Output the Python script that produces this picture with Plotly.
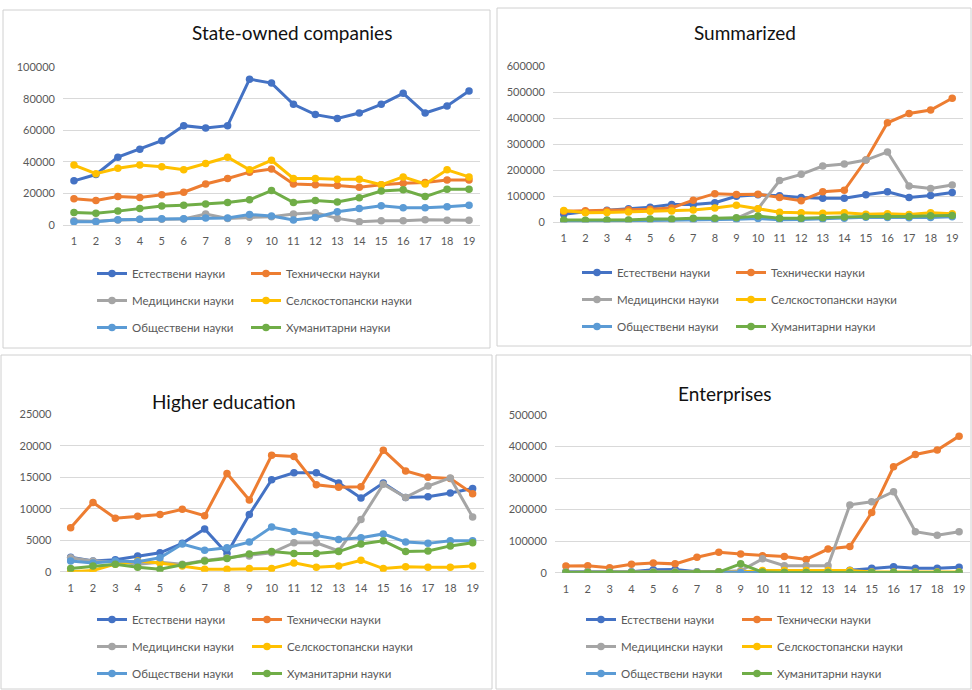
import plotly.graph_objects as go

W, H = 972, 690

x_vals = list(range(1, 20))

series_names = ['Естествени науки', 'Технически науки', 'Медицински науки',
                'Селскостопански науки', 'Обществени науки', 'Хуманитарни науки']
series_colors = ['#4472C4', '#ED7D31', '#A5A5A5', '#FFC000', '#5B9BD5', '#70AD47']

# State-owned companies
state_est = [28000, 32000, 43000, 48000, 53500, 63000, 61500, 63000, 92500, 90000, 76500, 70000, 67500, 71000, 76500, 83500, 71000, 75500, 85000]
state_tech = [16700, 15500, 18000, 17500, 19200, 20800, 26000, 29500, 33500, 35500, 26000, 25500, 25000, 24000, 25500, 26500, 27000, 28500, 28500]
state_med = [2700, 2300, 3200, 3600, 3600, 3800, 7000, 4200, 4900, 5300, 7000, 7800, 4200, 2000, 2700, 2700, 3400, 3000, 3000]
state_sel = [38000, 32500, 36000, 38000, 37000, 35000, 39000, 43000, 35000, 41000, 29500, 29500, 29000, 29000, 25500, 30500, 26000, 35000, 30500]
state_soc = [2100, 2100, 3400, 3600, 4000, 4000, 4400, 4400, 6700, 5700, 3200, 4800, 8400, 10500, 12200, 10900, 10900, 11600, 12600]
state_hum = [8000, 7400, 8800, 10500, 12000, 12600, 13300, 14300, 16000, 21800, 14300, 15600, 14600, 17300, 21500, 22300, 18000, 22700, 22700]

# Summarized
sum_est = [31000, 40000, 46000, 52000, 58000, 68000, 68000, 75000, 100000, 106000, 102000, 95000, 92000, 92000, 106000, 117000, 95000, 103000, 114000]
sum_tech = [42000, 44000, 44000, 48000, 50000, 55000, 85000, 110000, 107000, 108000, 95000, 83000, 117000, 123000, 239000, 382000, 418000, 431000, 476000]
sum_med = [6000, 6000, 7000, 8000, 9000, 10000, 12000, 12000, 15000, 52000, 160000, 184000, 216000, 224000, 239000, 270000, 139000, 130000, 143000]
sum_sel = [45000, 37000, 38000, 40000, 42000, 43000, 47000, 55000, 65000, 52000, 39000, 37000, 35000, 37000, 31000, 33000, 30000, 37000, 33000]
sum_soc = [4000, 4000, 6000, 6000, 7000, 8000, 8000, 9000, 12000, 15000, 10000, 11000, 13000, 16000, 19000, 18000, 17000, 18000, 21000]
sum_hum = [9000, 8000, 9000, 9000, 13000, 13000, 16000, 16000, 17000, 24000, 16000, 16000, 17000, 20000, 22000, 22000, 22000, 25000, 26000]

# Higher education
hed_est = [2300, 1700, 1900, 2500, 3000, 4500, 6800, 2900, 9100, 14600, 15700, 15700, 14100, 11700, 14100, 11800, 11900, 12500, 13200]
hed_tech = [7000, 11000, 8500, 8800, 9100, 9900, 8900, 15600, 11400, 18500, 18300, 13800, 13400, 13500, 19300, 16000, 15000, 14800, 12400]
hed_med = [2200, 1700, 1600, 1200, 1500, 1200, 1800, 2200, 2500, 3000, 4600, 4600, 3300, 8300, 13900, 11800, 13600, 14900, 8700]
hed_sel = [0, 200, 1200, 1700, 1400, 900, 400, 400, 500, 500, 1400, 700, 900, 1800, 500, 800, 700, 700, 900]
hed_soc = [1700, 1400, 1700, 1600, 2200, 4400, 3400, 3800, 4700, 7100, 6400, 5800, 5100, 5400, 6000, 4700, 4500, 4900, 4900]
hed_hum = [500, 900, 1200, 700, 400, 1100, 1700, 2100, 2800, 3200, 2900, 2900, 3200, 4400, 4900, 3200, 3300, 4100, 4600]

# Enterprises
ent_est = [3000, 3000, 3000, 3000, 9000, 10000, 3000, 3000, 3000, 3000, 4000, 4000, 5000, 8000, 14000, 19000, 14000, 14000, 17000]
ent_tech = [21000, 22000, 16000, 27000, 31000, 28000, 49000, 65000, 59000, 54000, 51000, 42000, 75000, 83000, 191000, 336000, 375000, 389000, 433000]
ent_med = [2000, 2000, 2000, 2000, 3000, 3000, 2000, 3000, 6000, 44000, 22000, 22000, 22000, 215000, 225000, 257000, 130000, 119000, 130000]
ent_sel = [1000, 1000, 1000, 1000, 1000, 1000, 1000, 2000, 2000, 7000, 7000, 7000, 7000, 7000, 2000, 2000, 2000, 2000, 2000]
ent_soc = [500, 500, 500, 500, 1000, 1000, 1000, 1000, 1000, 1000, 1000, 1000, 1000, 1000, 1000, 1000, 1000, 1000, 1000]
ent_hum = [500, 500, 500, 500, 1000, 1000, 1000, 2000, 28000, 2000, 1000, 1000, 1000, 1000, 1000, 1000, 1000, 1000, 1000]

panel_titles = ['State-owned companies', 'Summarized', 'Higher education', 'Enterprises']
y_max = [100000, 600000, 25000, 500000]
y_step = [20000, 100000, 5000, 100000]

panels_data = [
    [state_est, state_tech, state_med, state_sel, state_soc, state_hum],
    [sum_est, sum_tech, sum_med, sum_sel, sum_soc, sum_hum],
    [hed_est, hed_tech, hed_med, hed_sel, hed_soc, hed_hum],
    [ent_est, ent_tech, ent_med, ent_sel, ent_soc, ent_hum],
]


def px_x(v):
    return v / W


def px_y(v):
    return 1 - v / H


# pixel geometry of each panel: plot left/right, y of zero and of top gridline
geo = [
    dict(l=63, r=480, y0=225, y1=67.3, title=(292, 33), leg_text=(132, 286), leg_top=259, frame=(3, 10, 490, 348)),
    dict(l=553, r=963, y0=222.3, y1=66, title=(745, 33), leg_text=(617, 771), leg_top=258, frame=(497, 8, 971, 346)),
    dict(l=59.5, r=483.8, y0=571.7, y1=414.3, title=(224, 401), leg_text=(132, 287), leg_top=605, frame=(1, 355, 492, 689)),
    dict(l=555, r=970, y0=572.7, y1=415, title=(725, 393), leg_text=(621, 777), leg_top=605, frame=(496, 355, 971, 689)),
]

FONT = 'Lato'
GRID = '#D9D9D9'
TICK = '#595959'

fig = go.Figure()
layout = dict(
    width=W, height=H,
    margin=dict(l=0, r=0, t=0, b=0, autoexpand=False),
    paper_bgcolor='white', plot_bgcolor='rgba(0,0,0,0)',
    font=dict(family=FONT, color=TICK, size=11),
    showlegend=True,
)
shapes = []
annotations = []

for k in range(4):
    g = geo[k]
    ax = '' if k == 0 else str(k + 1)
    for i, name in enumerate(series_names):
        col = i % 2
        leg_id = 1 + k * 2 + col
        fig.add_trace(go.Scatter(
            x=x_vals, y=panels_data[k][i],
            mode='lines+markers', name=name,
            line=dict(color=series_colors[i], width=3),
            marker=dict(color=series_colors[i], size=7.5, symbol='circle'),
            xaxis='x' + ax, yaxis='y' + ax,
            legend='legend' if leg_id == 1 else 'legend%d' % leg_id,
            legendgroup='p%d_%d' % (k, i),
        ))
    layout['xaxis' + ax] = dict(
        domain=[px_x(g['l']), px_x(g['r'])], range=[0.5, 19.5],
        tickmode='array', tickvals=x_vals, ticktext=[str(v) for v in x_vals],
        showgrid=False, zeroline=False, showline=False, ticks='',
        ticklabelstandoff=8, tickfont=dict(size=11, color=TICK),
        anchor='y' + ax, fixedrange=True, automargin=False,
    )
    layout['yaxis' + ax] = dict(
        domain=[px_y(g['y0']), px_y(g['y1'])], range=[0, y_max[k]],
        dtick=y_step[k], tick0=0, showgrid=True, gridcolor=GRID, gridwidth=1,
        zeroline=True, zerolinecolor=GRID, zerolinewidth=1, showline=False,
        ticks='', ticklabelstandoff=7, tickfont=dict(size=11, color=TICK),
        tickformat='d', anchor='x' + ax, fixedrange=True, automargin=False,
    )
    for col in range(2):
        leg_id = 1 + k * 2 + col
        key = 'legend' if leg_id == 1 else 'legend%d' % leg_id
        layout[key] = dict(
            x=px_x(g['leg_text'][col] - 40), y=px_y(g['leg_top']),
            xanchor='left', yanchor='top', orientation='v',
            bgcolor='rgba(0,0,0,0)', borderwidth=0,
            tracegroupgap=8, font=dict(family=FONT, size=11.5, color=TICK),
        )
    fx0, fy0, fx1, fy1 = g['frame']
    shapes.append(dict(type='rect', xref='paper', yref='paper',
                       x0=px_x(fx0), x1=px_x(fx1), y0=px_y(fy1), y1=px_y(fy0),
                       line=dict(color='#D0D0D0', width=1), fillcolor='rgba(0,0,0,0)',
                       layer='below'))
    annotations.append(dict(text=panel_titles[k], xref='paper', yref='paper',
                            x=px_x(g['title'][0]), y=px_y(g['title'][1]),
                            xanchor='center', yanchor='middle', showarrow=False,
                            font=dict(family=FONT, size=19, color='#111111')))

# white boxes behind titles that break the top gridline
for bx0, by0, bx1, by1 in [(672, 58, 865, 72), (128, 406, 378, 420), (670, 408, 833, 422)]:
    shapes.append(dict(type='rect', xref='paper', yref='paper',
                       x0=px_x(bx0), x1=px_x(bx1), y0=px_y(by1), y1=px_y(by0),
                       line=dict(width=0), fillcolor='white', layer='above'))

layout['shapes'] = shapes
layout['annotations'] = annotations
fig.update_layout(**layout)

# drop the default page margin so the 972x690 figure fills the window exactly
fig.write_html("out.html", config={'displayModeBar': False},
               post_script="document.body.style.margin='0';document.body.style.overflow='hidden';")
